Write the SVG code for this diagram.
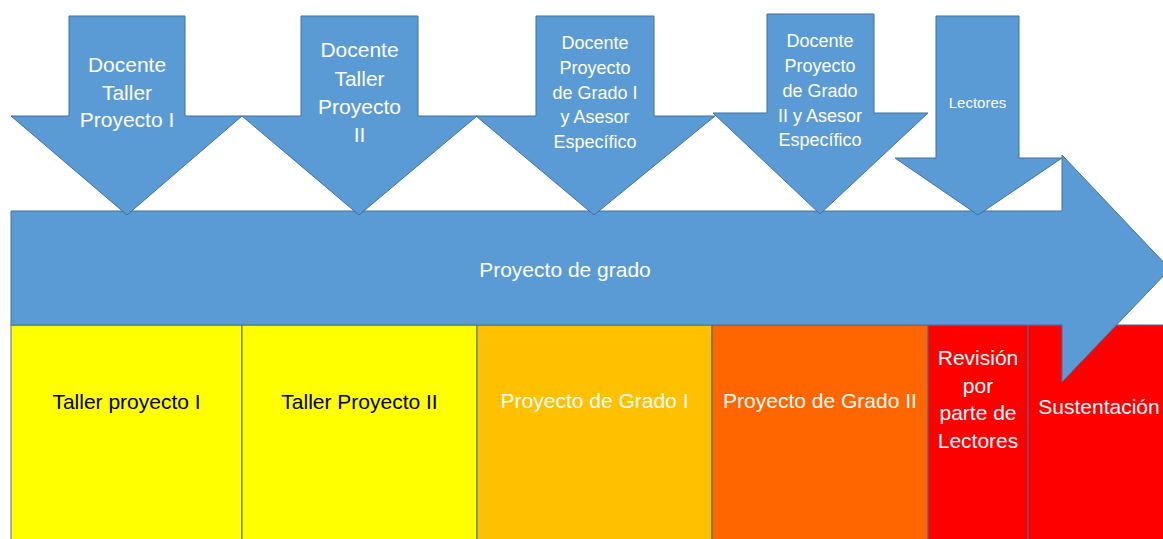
<svg xmlns="http://www.w3.org/2000/svg" width="1163" height="539" viewBox="0 0 1163 539">
<style>
.shape{fill:#5B9BD5;stroke:#41719C;stroke-width:1}
.box{stroke:#41719C;stroke-width:1}
text{font-family:"Liberation Sans",Arial,sans-serif;text-anchor:middle}
.w{fill:#FFFFFF}
.k{fill:#000000}
.f21{font-size:21px}
.f18{font-size:18px}
.f15{font-size:15px}
</style>
<rect width="1163" height="539" fill="#FFFFFF"/>
<g id="box-taller1">
<rect class="box" x="11" y="325" width="231" height="220" fill="#FFFF00"/>
<text class="k f21" x="126.5" y="409">Taller proyecto I</text>
</g>
<g id="box-taller2">
<rect class="box" x="242" y="325" width="235" height="220" fill="#FFFF00"/>
<text class="k f21" x="359.5" y="409">Taller Proyecto II</text>
</g>
<g id="box-grado1">
<rect class="box" x="477" y="325" width="235" height="220" fill="#FFC000"/>
<text class="w f21" x="594.5" y="408">Proyecto de Grado I</text>
</g>
<g id="box-grado2">
<rect class="box" x="712" y="325" width="216" height="220" fill="#FF6600"/>
<text class="w f21" x="820" y="408">Proyecto de Grado II</text>
</g>
<g id="box-revision">
<rect class="box" x="928" y="325" width="100" height="220" fill="#FF0000"/>
<text class="w f21" x="978" y="365">Revisión</text>
<text class="w f21" x="978" y="393">por</text>
<text class="w f21" x="978" y="420">parte de</text>
<text class="w f21" x="978" y="448">Lectores</text>
</g>
<g id="box-sustentacion">
<rect class="box" x="1028" y="325" width="150" height="220" fill="#FF0000"/>
<text class="w f21" x="1099" y="414">Sustentación</text>
</g>
<g id="main-arrow">
<polygon class="shape" points="11,211 1062,211 1062,155 1170,269 1062,382 1062,325 11,325"/>
<text class="w f21" x="565" y="277">Proyecto de grado</text>
</g>
<g id="arrow-docente-taller1">
<polygon class="shape" points="69,16 185,16 185,116 242,116 127,215 11,116 69,116"/>
<text class="w f21" x="127" y="72">Docente</text>
<text class="w f21" x="127" y="100">Taller</text>
<text class="w f21" x="127" y="127">Proyecto I</text>
</g>
<g id="arrow-docente-taller2">
<polygon class="shape" points="301,16 418,16 418,116 477,116 359,215 242,116 301,116"/>
<text class="w f21" x="359.5" y="57">Docente</text>
<text class="w f21" x="359.5" y="85.5">Taller</text>
<text class="w f21" x="359.5" y="114">Proyecto</text>
<text class="w f21" x="359.5" y="142">II</text>
</g>
<g id="arrow-docente-grado1">
<polygon class="shape" points="536,16 654,16 654,116 715,116 594,215 476,116 536,116"/>
<text class="w f18" x="595" y="49">Docente</text>
<text class="w f18" x="595" y="74">Proyecto</text>
<text class="w f18" x="595" y="99">de Grado I</text>
<text class="w f18" x="595" y="123">y Asesor</text>
<text class="w f18" x="595" y="148">Específico</text>
</g>
<g id="arrow-docente-grado2">
<polygon class="shape" points="767,14 874,14 874,113 928,113 820,214 713,113 767,113"/>
<text class="w f18" x="820" y="47">Docente</text>
<text class="w f18" x="820" y="72">Proyecto</text>
<text class="w f18" x="820" y="97">de Grado</text>
<text class="w f18" x="820" y="122">II y Asesor</text>
<text class="w f18" x="820" y="146">Específico</text>
</g>
<g id="arrow-lectores">
<polygon class="shape" points="936,16 1019,16 1019,158 1062,158 978,215 895,158 936,158"/>
<text class="w f15" x="977.5" y="108">Lectores</text>
</g>
</svg>
